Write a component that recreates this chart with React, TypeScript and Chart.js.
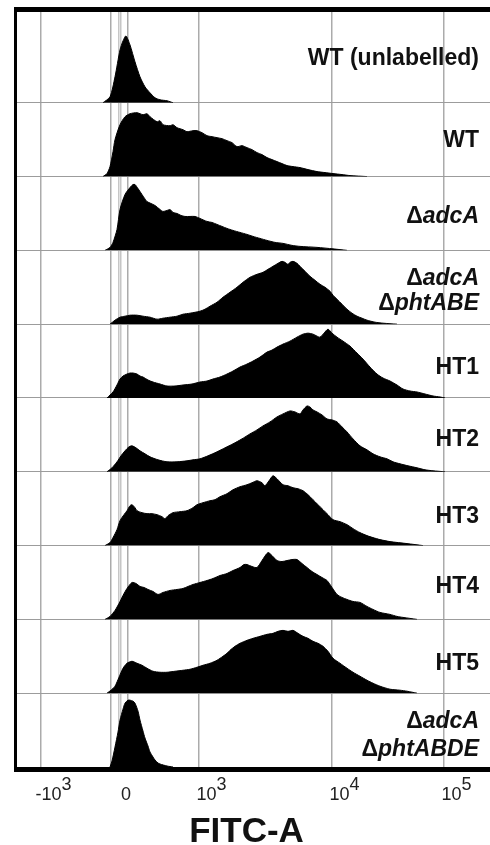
import { useEffect, useRef } from 'react';
import { Chart, registerables } from 'chart.js';

Chart.register(...registerables);

// ---- Data (x = FITC-A display channel, y = normalized count) ----
const WT_UNLABELLED = [[103,0],[110,6],[115,26],[120,53],[123,62],[126,67],[130,58],[135,41],[140,26],[145,16],[150,10],[155,5],[160,3],[167,2],[173,0]];
const WT = [[103,0],[107,3],[110,10],[113,25],[115,37],[120,52],[125,60],[130,63],[137,64],[143,62],[147,63],[150,60],[157,55],[160,56],[163,52],[170,51],[173,52],[177,49],[183,47],[187,45],[193,46],[197,46],[202,44],[207,41],[212,40],[217,39],[222,38],[227,36],[232,34],[237,30],[242,31],[247,29],[252,27],[257,24],[262,22],[267,19],[272,17],[277,15],[282,13],[287,11],[293,10],[300,9],[308,7],[317,5],[325,4],[333,3],[342,2],[350,1],[367,0]];
const ADCA = [[105,0],[110,3],[113,8],[117,21],[120,41],[125,56],[130,63],[133,66],[135,66],[138,62],[140,59],[144,53],[147,49],[151,47],[155,45],[160,41],[163,39],[167,40],[170,41],[173,38],[177,37],[181,35],[185,34],[190,34],[195,34],[200,32],[207,29],[212,28],[217,26],[222,24],[227,22],[233,20],[240,18],[247,16],[253,14],[260,12],[267,10],[275,8],[283,7],[292,5],[300,4],[317,3],[333,1.5],[347,0]];
const ADCA_PHTABE = [[110,0],[115,4],[120,7],[125,8],[130,9],[137,9],[143,8],[150,7],[157,5],[163,6],[170,7],[177,8],[183,10],[190,11],[200,13],[205,15],[210,18],[217,22],[223,27],[230,32],[237,37],[243,42],[250,47],[257,50],[263,52],[268,55],[273,58],[278,61],[282,63],[285,62],[288,60],[290,62],[293,63],[297,61],[300,58],[305,53],[310,48],[315,44],[320,40],[325,37],[330,33],[333,29],[337,25],[342,20],[347,15],[352,11],[357,8],[362,6],[367,4],[375,2],[383,1],[397,0]];
const HT1 = [[107,0],[110,3],[113,6],[117,13],[120,19],[123,22],[127,24],[130,25],[133,25],[137,24],[140,22],[143,21],[148,18],[153,16],[160,14],[167,12],[175,12],[183,13],[192,14],[200,16],[207,17],[213,19],[220,21],[227,24],[233,27],[240,31],[247,34],[253,37],[260,41],[267,46],[272,48],[277,51],[283,54],[290,57],[297,61],[303,64],[308,65],[313,64],[317,62],[320,61],[324,65],[328,69],[332,65],[337,61],[343,57],[350,52],[357,45],[363,39],[370,31],[377,24],[383,20],[390,17],[397,13],[403,9],[410,7],[417,6],[425,4],[433,2],[440,1],[445,0]];
const HT2 = [[107,0],[112,4],[117,10],[121,16],[125,21],[129,25],[132,26],[136,24],[140,21],[145,18],[150,15],[158,12],[167,10],[177,10],[187,11],[193,12],[200,13],[208,16],[217,20],[225,24],[233,28],[242,33],[250,38],[257,42],[263,46],[270,50],[277,55],[283,58],[290,61],[295,60],[300,58],[303,62],[307,66],[310,65],[313,62],[317,60],[322,57],[327,53],[332,52],[337,50],[342,45],[347,40],[353,33],[360,26],[367,22],[373,18],[380,15],[387,13],[393,10],[400,8],[408,6],[417,4],[425,2],[433,1],[445,0]];
const HT3 = [[105,0],[110,3],[113,8],[117,16],[120,25],[124,31],[127,35],[130,40],[132,41],[135,38],[137,35],[142,33],[147,32],[152,32],[157,31],[162,29],[165,27],[168,30],[173,33],[180,34],[187,35],[193,38],[197,41],[203,43],[210,45],[215,46],[220,49],[227,52],[233,56],[240,59],[247,61],[252,63],[257,65],[262,63],[265,60],[269,65],[273,70],[277,67],[283,61],[288,60],[293,58],[298,57],[303,55],[308,51],[313,46],[318,41],[323,36],[328,31],[333,26],[340,24],[347,21],[353,17],[360,13],[367,10],[373,8],[380,6],[390,4],[407,2],[423,0]];
const HT4 = [[105,0],[110,3],[115,9],[119,16],[123,24],[127,31],[132,37],[136,36],[140,33],[144,32],[148,30],[153,28],[158,25],[163,27],[170,29],[177,30],[183,31],[188,33],[193,35],[200,37],[207,39],[213,41],[220,44],[227,46],[233,49],[240,52],[244,55],[247,55],[252,53],[257,52],[262,59],[268,67],[272,64],[277,59],[282,58],[287,59],[292,60],[297,60],[302,56],[307,52],[312,48],[317,45],[322,42],[327,39],[332,32],[337,25],[342,22],[347,20],[353,18],[360,17],[367,13],[373,10],[380,7],[390,5],[397,3],[403,2],[417,0]];
const HT5 = [[107,0],[111,3],[115,7],[119,16],[123,25],[127,30],[132,32],[137,30],[142,28],[147,25],[153,22],[160,21],[167,21],[175,22],[183,23],[190,24],[197,26],[203,28],[210,30],[217,33],[223,37],[227,40],[230,43],[235,47],[240,50],[247,53],[253,55],[260,57],[267,59],[273,60],[278,62],[283,63],[288,62],[293,63],[298,60],[303,57],[308,55],[313,52],[318,50],[323,47],[328,42],[333,35],[340,30],[347,25],[353,21],[360,17],[367,13],[373,10],[380,7],[390,4],[400,3],[407,2],[417,0]];
const ADCA_PHTABDE = [[110,0],[112,6],[115,20],[118,35],[120,47],[123,58],[125,64],[128,67],[130,67],[133,66],[135,64],[138,56],[140,47],[143,36],[145,29],[148,21],[150,15],[153,10],[155,7],[158,4],[160,3],[167,1],[173,0]];

const ROW_SERIES = [WT_UNLABELLED, WT, ADCA, ADCA_PHTABE, HT1, HT2, HT3, HT4, HT5, ADCA_PHTABDE];
const ROW_LABELS = [
  ['WT (unlabelled)'], ['WT'], ['ΔadcA'], ['ΔadcA', 'ΔphtABE'],
  ['HT1'], ['HT2'], ['HT3'], ['HT4'], ['HT5'], ['ΔadcA', 'ΔphtABDE'],
];

// axis
const X_MIN = 17;
const X_MAX = 490;
const GRID_CHANNELS = [41, 110.5, 119, 121, 128, 199, 332, 444];
const TICK_CHANNELS = [41, 119.5, 199, 332, 444];
const TICK_BASES = ['-10', '0', '10', '10', '10'];
const TICK_EXPONENTS = ['3', '', '3', '4', '5'];
const X_TITLE = 'FITC-A';
const ROW_MAX = 74;
const TOP_ROW_MAX = 91;

// label placement (px above row baseline, caps centre) — style only
const LABEL_RISE = [[45.5], [38], [35], [47.5, 22.5], [31.5], [34], [30.5], [34.5], [31.5], [47.5, 19.5]];

const FONT_FAMILY = '"Liberation Sans", Arial, Helvetica, sans-serif';
const LABEL_SIZE = 23;

const decorPlugin = {
  id: 'decor',
  afterDraw(chart: any) {
    const ctx = chart.ctx as CanvasRenderingContext2D;
    const area = chart.chartArea;
    ctx.save();
    // frame
    ctx.fillStyle = '#000';
    ctx.fillRect(area.left - 3, area.top - 5, area.right - area.left + 3, 5);
    ctx.fillRect(area.left - 3, area.top - 5, 3, area.bottom - area.top + 10);
    ctx.fillRect(area.left - 3, area.bottom, area.right - area.left + 3, 5);

    // row labels
    ROW_LABELS.forEach((lines, i) => {
      const scale = chart.scales['y' + i];
      lines.forEach((line, j) => {
        const y = scale.bottom - LABEL_RISE[i][j] + 8;
        const segs: { t: string; it: boolean }[] = [];
        if (line.startsWith('Δ')) {
          segs.push({ t: 'Δ', it: false });
          segs.push({ t: line.slice(1), it: true });
        } else segs.push({ t: line, it: false });
        let total = 0;
        const widths = segs.map((s) => {
          ctx.font = (s.it ? 'italic ' : '') + 'bold ' + LABEL_SIZE + 'px ' + FONT_FAMILY;
          const w = ctx.measureText(s.t).width;
          total += w;
          return w;
        });
        let x = 479 - total;
        ctx.textBaseline = 'alphabetic';
        ctx.textAlign = 'left';
        ctx.fillStyle = '#111';
        segs.forEach((s, k) => {
          ctx.font = (s.it ? 'italic ' : '') + 'bold ' + LABEL_SIZE + 'px ' + FONT_FAMILY;
          ctx.fillText(s.t, x, y);
          x += widths[k];
        });
      });
    });

    // tick labels
    const xs = chart.scales.x;
    ctx.font = '18px ' + FONT_FAMILY;
    ctx.fillStyle = '#222';
    ctx.textAlign = 'left';
    ctx.textBaseline = 'alphabetic';
    TICK_CHANNELS.forEach((v, i) => {
      const px = xs.getPixelForValue(v);
      const base = TICK_BASES[i];
      const exp = TICK_EXPONENTS[i];
      const w1 = ctx.measureText(base).width;
      const w2 = exp ? ctx.measureText(exp).width : 0;
      const centre = px + (exp ? 12.5 : 6.5);
      const start = centre - (w1 + w2) / 2;
      ctx.fillText(base, start, area.bottom + 33);
      if (exp) ctx.fillText(exp, start + w1, area.bottom + 23);
    });

    // axis title
    ctx.font = 'bold 35px ' + FONT_FAMILY;
    ctx.fillStyle = '#111';
    ctx.textAlign = 'center';
    ctx.fillText(X_TITLE, 246.5, area.bottom + 75);
    ctx.restore();
  },
};

export default function App() {
  const ref = useRef<HTMLCanvasElement>(null);
  useEffect(() => {
    if (!ref.current) return;
    const scales: any = {
      x: {
        type: 'linear',
        position: 'bottom',
        min: X_MIN,
        max: X_MAX,
        afterBuildTicks: (s: any) => {
          s.ticks = GRID_CHANNELS.map((v) => ({ value: v }));
        },
        ticks: { display: false },
        grid: {
          drawTicks: false,
          color: (c: any) => (c.tick && (c.tick.value === 119 || c.tick.value === 121) ? '#c6c6c6' : '#ababab'),
          lineWidth: 1.5,
        },
        border: { display: false },
        afterFit: (s: any) => {
          s.height = 78;
        },
      },
    };
    ROW_SERIES.forEach((_, i) => {
      scales['y' + i] = {
        type: 'linear',
        position: 'left',
        stack: 'rows',
        stackWeight: i === 0 ? TOP_ROW_MAX / ROW_MAX : 1,
        weight: ROW_SERIES.length - i,
        min: 0,
        max: i === 0 ? TOP_ROW_MAX : ROW_MAX,
        afterBuildTicks: (s: any) => {
          s.ticks = [{ value: 0 }];
        },
        ticks: { display: false },
        grid: { drawTicks: false, color: '#9c9c9c', lineWidth: 1 },
        border: { display: false },
        afterFit: (s: any) => {
          s.width = 0;
        },
      };
    });
    const chart = new Chart(ref.current, {
      type: 'line',
      data: {
        datasets: ROW_SERIES.map((series, i) => ({
          label: ROW_LABELS[i].join(' '),
          data: series.map(([x, y]) => ({ x, y })),
          yAxisID: 'y' + i,
          xAxisID: 'x',
          backgroundColor: '#000',
          borderColor: '#000',
          borderWidth: 1,
          pointRadius: 0,
          tension: 0.25,
          fill: 'origin',
        })),
      },
      options: {
        animation: false,
        responsive: false,
        devicePixelRatio: 1,
        layout: { padding: { left: 17, top: 12, right: 0, bottom: 0 } },
        plugins: { legend: { display: false }, tooltip: { enabled: false } },
        scales,
      },
      plugins: [decorPlugin],
    });
    return () => chart.destroy();
  }, []);
  return (
    <div style={{ position: 'fixed', left: 0, top: 0, width: 490, height: 845, background: '#fff' }}>
      <canvas ref={ref} width={490} height={845} style={{ display: 'block' }} />
    </div>
  );
}
